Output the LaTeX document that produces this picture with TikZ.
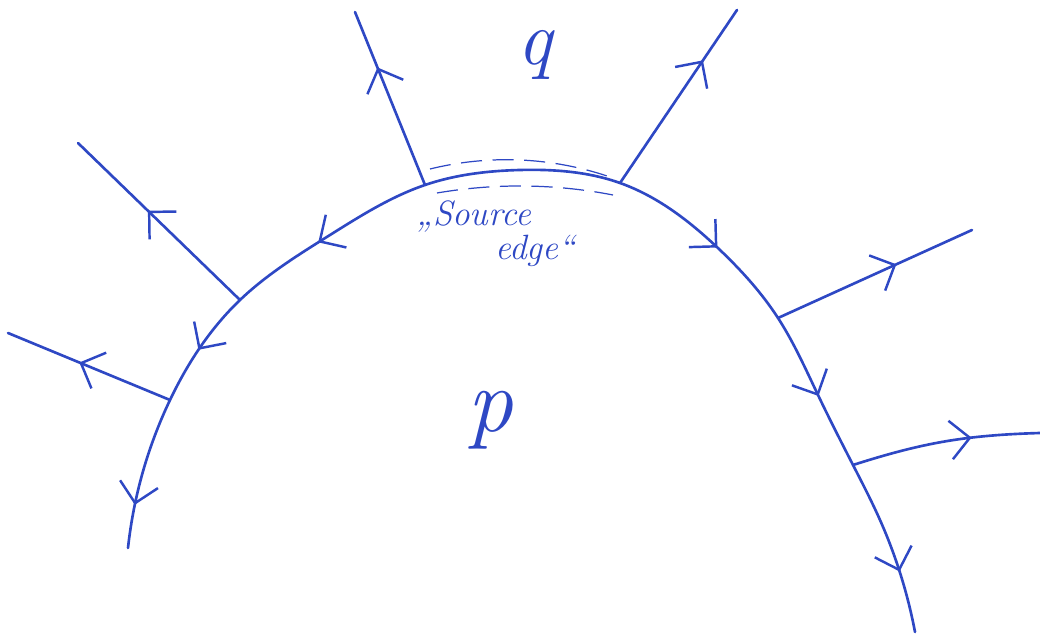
\documentclass[tikz,border=0pt]{standalone}
\usetikzlibrary{hobby,arrows.meta,decorations.markings}
\definecolor{ink}{RGB}{46,72,196}
\tikzset{
    barb/.tip={Straight Barb[length=11pt,width=22pt,line width=1.4pt]},
    sketch/.style={
        ink,
        line width=1.5pt,
        line cap=round,
        line join=round
    },
    ray/.style={
        sketch,
        postaction=decorate,
        decoration={markings,
        mark=at position #1 with {\arrow{barb}}
        }
    },
    dome arrows/.style={
        postaction=decorate,
        decoration={markings,
        mark=at position 0.035 with {\arrowreversed{barb}},
        mark=at position 0.17 with {\arrowreversed{barb}},
        mark=at position 0.30 with {\arrowreversed{barb}},
        mark=at position 0.65 with {\arrow{barb}},
        mark=at position 0.795 with {\arrow{barb}},
        mark=at position 0.95 with {\arrow{barb}}
        }
    },
    outline/.style={
        ink,
        line width=0.7pt,
        dash pattern=on 12pt off 6pt
    },
    handtext/.style={
        ink,
        inner sep=0pt,
        font=\itshape\fontsize{20}{24}\selectfont
    }
}

\begin{document}
\begin{tikzpicture}[x=0.02cm,y=0.02cm,use Hobby shortcut]
    \useasboundingbox (0,0) rectangle (1040,635);
    \coordinate (a0) at (128,87);
    \coordinate (a1) at (170,235);
    \coordinate (a2) at (240,335);
    \coordinate (a3) at (330,400);
    \coordinate (s1) at (425,450);
    \coordinate (top) at (520,465);
    \coordinate (s2) at (620,452);
    \coordinate (a4) at (720,385);
    \coordinate (a5) at (778,317);
    \coordinate (a6) at (818,240);
    \coordinate (a7) at (853,170);
    \coordinate (a8) at (880,115);
    \coordinate (a9) at (915,3);

    \coordinate (e1) at (355,623);
    \coordinate (e2) at (737,625);
    \coordinate (e3) at (78,492);
    \coordinate (e4) at (8,302);
    \coordinate (e5) at (972,405);
    \coordinate (e6) at (1040,202);

    % the face boundary
    \draw[sketch, dome arrows] (a0) .. (a1) .. (a2) .. (a3) .. (s1) .. (top) .. (s2) .. (a4) .. (a5) .. (a6) .. (a7) .. (a8) .. (a9);

    \draw[ray=0.68] (s1) -- (e1);
    \draw[ray=0.71] (s2) -- (e2);
    \draw[ray=0.57] (a2) -- (e3);
    \draw[ray=0.56] (a1) -- (e4);
    \draw[ray=0.61] (a5) -- (e5);
    \draw[ray=0.64] (a7) to[bend left=8] (e6);

    % source edge
    \draw[outline] (430,466) .. (520,475) .. (610,458);
    \draw[outline] (437,442) .. (520,449) .. (613,440);

    \node[handtext, font=\itshape\fontsize{44}{44}\selectfont] (q) at (535,580) {q};
    \node[handtext, font=\itshape\fontsize{52}{52}\selectfont] (p) at (490,215) {p};
    \node[handtext, anchor=base west] (src1) at (416,409) {„Source};
    \node[handtext, anchor=base west] (src2) at (495,375) {edge“};
\end{tikzpicture}
\end{document}
